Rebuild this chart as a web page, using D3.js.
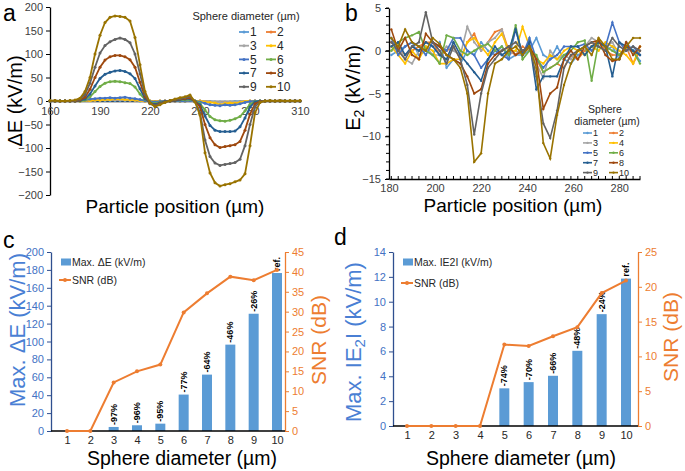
<!DOCTYPE html>
<html>
<head>
<meta charset="utf-8">
<script src="https://cdn.jsdelivr.net/npm/d3@7"></script>
<style>
  body { margin: 0; background: #fff; }
  svg { display: block; font-family: "Liberation Sans", Arial, sans-serif; }
</style>
</head>
<body>
<div id="chart"></div>
<script>
// ---------- data ----------
const seriesNames = ["1", "2", "3", "4", "5", "6", "7", "8", "9", "10"];

// panel a: delta E (kV/m) vs particle position (um)
const aPos = [160,163,166,169,172,175,178,181,184,187,190,193,196,199,202,205,208,211,214,217,
  220,223,226,229,232,235,238,241,244,247,250,253,256,259,262,265,268,271,274,277,
  280,283,286,289,292,295,298,301,304,307,310];
const aD1 = [0,0,0,0,0,0,0,1,1,1, 1,1,1,1,1,1,1,1,0,0, 0,-1,0,0,0,0,0,0,1,0, 0,-1,-1,-2,-2,-2,-2,-1,-1,-1, 0,0,0,0,0,0,0,1,0,0, 0];
const aD2 = [0,0,0,0,0,0,0,1,1,2, 2,3,3,3,3,3,2,2,1,0, 0,-1,0,0,0,0,0,0,1,0, 0,-1,-2,-3,-3,-3,-3,-3,-2,-1, 0,0,0,0,0,0,1,0,0,0, 0];
const aD3 = [0,0,0,0,0,0,0,1,1,2, 2,2,3,3,3,2,2,2,1,0, 0,-1,0,0,0,0,0,0,1,0, 0,-1,-2,-2,-3,-3,-2,-2,-2,-1, 0,0,0,0,0,0,1,0,0,0, 0];
const aD4 = [0,0,0,0,0,0,0,1,1,2, 2,3,3,4,4,3,3,2,1,0, 0,-1,0,0,0,0,0,0,1,0, 0,-2,-3,-4,-8,-5,-4,-5,-3,-1, 0,0,0,0,0,0,0,0,0,0, 0];
const aD5 = [0,0,0,0,0,0,1,2,4,5, 6,6,7,6,7,8,6,5,3,1, -1,-2,-1,0,0,0,0,0,1,0, -2,-5,-8,-9,-10,-8,-9,-8,-6,-3, -1,0,0,0,0,0,0,0,0,0, 0];
const aD6 = [0,0,0,0,0,0,0,2,9,20, 31,38,41,42,41,39,37,30,15,3, -3,-5,-3,-1,0,1,2,2,3,0, -5,-19,-33,-40,-42,-43,-41,-38,-33,-21, -7,-1,0,0,0,0,0,0,0,0, 0];
const aD7 = [0,0,0,0,0,0,1,4,15,32, 48,57,61,64,65,63,58,48,26,5, -4,-7,-4,-1,0,1,3,4,5,-1, -8,-32,-52,-62,-65,-65,-65,-64,-55,-36, -13,-2,0,0,0,0,0,0,0,0, 0];
const aD8 = [0,0,0,0,0,0,2,8,25,50, 72,87,94,97,97,94,88,72,40,9, -5,-9,-5,-2,0,2,4,5,7,-1, -12,-50,-78,-93,-99,-97,-95,-93,-86,-62, -28,-6,-1,0,0,0,0,0,0,0, 0];
const aD9 = [0,1,0,0,0,1,4,14,38,72, 102,118,126,131,134,131,124,100,58,14, -6,-10,-6,-2,1,3,5,7,10,-1, -25,-83,-118,-132,-137,-135,-133,-131,-124,-95, -50,-12,-2,0,1,0,1,0,0,1, 0];
const aD10 = [1,1,0,0,1,2,6,20,50,100, 140,167,178,181,180,178,170,135,77,20, -4,-12,-8,-3,1,4,7,9,13,-2, -30,-110,-153,-174,-181,-178,-176,-172,-168,-155, -95,-25,-3,0,1,0,1,0,1,0, 1];
const aTicksX = [160, 190, 220, 250, 280, 310];
const aTicksY = [-200, -150, -100, -50, 0, 50, 100, 150, 200];

// panel b: E2 (kV/m) vs particle position (um)
const bPos = [181,184,187,190,193,196,199,202,205,208,211,214,217,220,223,226,229,232,235,238,
  241,244,247,250,253,256,259,262,265,268,271,274,277,280,283,286,289];
const bD1 = [-0.5,0,0.5,1,-0.5,0,-0.5,1,-2,-1, -1.5,0,-0.5,1,0,-0.5,0.5,-1,-0.5,-0.5, 0,1.5,-0.5,-1,0.5,-1,-1.5,-0.5,0,0.5, 0.5,0,0.5,-1,1,0,-1.2];
const bD2 = [1,0.5,-0.5,0,0.5,1,1,-0.5,0,0.5, -1,1,2,0,1,2.2,2.5,0,-0.5,0.5, 0,-1,-2.5,-2,-1.5,-2,-0.5,-1,0,0.5, 1.3,0,-0.5,-0.5,0.5,-1.5,0];
const bD3 = [0,0.5,-1,-1.5,0,0.5,-0.5,-0.5,0.5,0, -0.5,2.8,1,0,1,1.5,2.5,-0.5,0,-0.5, 0.5,-1.5,-3.2,0,-1,-0.5,-1,0,0.5,1.5, 1,0.5,1,-0.5,0,0,-0.5];
const bD4 = [0.5,-0.5,-1.5,0,-1,0.5,0,-1.5,-1.5,-1, -1,1,1.5,0.5,-0.5,1,2,0,0,2.8, 0.5,-1,-1.5,-0.5,-1,0,0.5,0,-0.5,0.5, 0,1,0.5,0,-0.5,-1.5,0.5];
const bD5 = [1.5,-0.5,0.5,1,0.5,-0.5,1,0.5,0,1.5, 1.5,0,-0.5,-2,-1,0,-0.5,-1,2.5,-0.5, 1.5,-1,-2,-1,-0.5,0.5,0.5,0.5,0.8,0, 1,0.5,3.3,1,0,0.5,-0.5];
const bD6 = [0,1,1.5,1.8,2.2,0,-0.5,-1.5,1.8,1.5, 0,-0.5,0,0.5,0.8,0,0.5,-0.5,3,-1, 0,-0.5,-2.5,-2,-1.5,-0.5,0,1,1.2,-3.5, 1,0.5,0,-0.5,0.5,0,-1.5];
const bD7 = [0.5,1,-0.5,0.5,0,1,0.5,-0.5,-1,1, -0.5,-1.5,-2.5,-3.5,-1,0.5,-0.5,0,2.5,-0.5, 1,-4.5,-3,-3,-3,-1,0.5,0.5,-0.5,0.5, 1,0.5,-3,1,0.5,0,-0.5];
const bD8 = [2.5,0,1.5,-0.5,-1,2,1,0.5,-0.5,-1, -1.5,-3,-5,-4.5,-1.5,-0.5,0,0.5,-0.5,0, 0.5,-1,-6.8,-5,-4.3,-1,0,-1,0.5,1, 1.2,-0.5,-1.2,-1,1,-0.5,0.5];
const bD9 = [1,0,-1,0.5,1,4.5,1,0,-1.5,0.5, -1,-4,-9.8,-5,-2,-1,0,0.5,1,0, 0.5,-3,-8.5,-10.2,-7,-2,-0.5,0,0.5,1, 0.5,0,1.5,0.5,0,0.5,0];
const bD10 = [1.5,0.5,2.5,1,0.5,0,1.5,0.8,-0.5,-1, -2,-5,-13,-12,-5,-1.5,-1,0,0.5,-0.5, 0.5,-2,-10.8,-12.6,-7.5,-4,-1.5,0,0.5,-0.5, 1.5,0.5,-1,-1,0.5,1.5,1.5];
const bTicksX = [180, 200, 220, 240, 260, 280];
const bTicksY = [-15, -10, -5, 0, 5];

// panel c / d: sphere diameter
const sizes = [1, 2, 3, 4, 5, 6, 7, 8, 9, 10];
const cMaxDE = [0, 0, 4.5, 6.4, 8.2, 40.7, 63, 96.5, 131, 176.5];
const cSNR = [0, 0, 12.2, 15.0, 16.7, 29.8, 34.6, 38.8, 37.9, 40.5];
const cLabels = ["", "", "-97%", "-96%", "-95%", "-77%", "-64%", "-46%", "-26%", "ref."];
const dMaxE2 = [0, 0, 0, 0, 3.03, 3.53, 4.04, 6.05, 9.0, 11.86];
const dSNR = [0, 0, 0, 0, 11.7, 11.5, 12.9, 14.2, 19.1, 20.9];
const dLabels = ["", "", "", "", "-74%", "-70%", "-66%", "-48%", "-24%", "ref."];

const colors = ["#5b9bd5", "#ed7d31", "#a5a5a5", "#ffc000", "#4472c4",
  "#70ad47", "#255e91", "#9e480e", "#636363", "#997300"];
const blue = "#4472c4", barBlue = "#5b9bd5", orange = "#ed7d31", tickGrey = "#404040";

const aSeries = [aD1, aD2, aD3, aD4, aD5, aD6, aD7, aD8, aD9, aD10];
const bSeries = [bD1, bD2, bD3, bD4, bD5, bD6, bD7, bD8, bD9, bD10];

const svg = d3.select("#chart").append("svg")
  .attr("width", 685)
  .attr("height", 471);
svg.append("rect").attr("width", 685).attr("height", 471).attr("fill", "#fff");

function styleAxis(g, lineColor, textColor, size) {
  g.select(".domain").attr("stroke", lineColor).attr("stroke-width", 1.3);
  g.selectAll(".tick line").attr("stroke", lineColor).attr("stroke-width", 1);
  g.selectAll(".tick text").attr("fill", textColor).attr("font-size", size)
    .attr("font-family", "Liberation Sans, Arial, sans-serif");
}

function panelLetter(t, x, y) {
  svg.append("text").attr("x", x).attr("y", y).attr("font-size", 23).text(t);
}

//----------- panel a -----------
const ax = d3.scaleLinear().domain([160, 310]).range([50, 300]);
const ay = d3.scaleLinear().domain([-200, 200]).range([195, 7]);

const aYAxis = svg.append("g").attr("transform", "translate(50,0)")
  .call(d3.axisLeft(ay).tickValues(aTicksY).tickSize(4).tickPadding(3).tickSizeOuter(0));
styleAxis(aYAxis, "#000", tickGrey, 11);

const aXAxis = svg.append("g").attr("transform", "translate(0," + ay(0) + ")")
  .call(d3.axisBottom(ax).tickValues(aTicksX).tickSize(0).tickPadding(6).tickSizeOuter(0));
styleAxis(aXAxis, "#000", tickGrey, 11);

const aLine = d3.line().x((d, i) => ax(aPos[i])).y(d => ay(d));
aSeries.forEach((s, k) => {
  const g = svg.append("g");
  g.append("path").attr("d", aLine(s)).attr("fill", "none")
    .attr("stroke", colors[k]).attr("stroke-width", 1.8);
  g.selectAll("circle").data(s).join("circle")
    .attr("cx", (d, i) => ax(aPos[i])).attr("cy", d => ay(d))
    .attr("r", 1.5).attr("fill", colors[k]);
});

svg.append("text").attr("x", 246).attr("y", 20).attr("text-anchor", "middle")
  .attr("font-size", 11).attr("fill", "#262626").text("Sphere diameter (\u00b5m)");
seriesNames.forEach((n, k) => {
  const col = k % 2, row = Math.floor(k / 2);
  const lx = col === 0 ? 239 : 266, ly = 32 + row * 13.7;
  svg.append("line").attr("x1", lx).attr("x2", lx + 10).attr("y1", ly).attr("y2", ly)
    .attr("stroke", colors[k]).attr("stroke-width", 1.8);
  svg.append("circle").attr("cx", lx + 5).attr("cy", ly).attr("r", 1.5).attr("fill", colors[k]);
  svg.append("text").attr("x", lx + 11).attr("y", ly).attr("dy", "0.36em")
    .attr("font-size", 12).attr("fill", "#262626").text(n);
});

svg.append("text").attr("transform", "translate(22,101) rotate(-90)")
  .attr("text-anchor", "middle").attr("font-size", 20).text("\u0394E (kV/m)");
svg.append("text").attr("x", 175).attr("y", 213).attr("text-anchor", "middle")
  .attr("font-size", 19).text("Particle position (\u00b5m)");
panelLetter("a", 3, 21);

//----------- panel b -----------
const bx = d3.scaleLinear().domain([180, 289]).range([389, 640]);
const by = d3.scaleLinear().domain([-15, 5]).range([179, 8]);

// minor ticks
svg.append("g").selectAll("line").data(d3.range(-15, 6, 1)).join("line")
  .attr("x1", 386).attr("x2", 389).attr("y1", d => by(d)).attr("y2", d => by(d))
  .attr("stroke", "#000");
svg.append("g").selectAll("line").data(bPos).join("line")
  .attr("x1", d => bx(d)).attr("x2", d => bx(d)).attr("y1", 179).attr("y2", 176)
  .attr("stroke", "#000");

const bYAxis = svg.append("g").attr("transform", "translate(389,0)")
  .call(d3.axisLeft(by).tickValues(bTicksY).tickSize(4).tickPadding(4).tickSizeOuter(0));
styleAxis(bYAxis, "#000", tickGrey, 11);
const bXAxis = svg.append("g").attr("transform", "translate(0,179)")
  .call(d3.axisBottom(bx).tickValues(bTicksX).tickSize(0).tickPadding(5).tickSizeOuter(0));
styleAxis(bXAxis, "#000", tickGrey, 11);

const bLine = d3.line().x((d, i) => bx(bPos[i])).y(d => by(d));
bSeries.forEach((s, k) => {
  const g = svg.append("g");
  g.append("path").attr("d", bLine(s)).attr("fill", "none")
    .attr("stroke", colors[k]).attr("stroke-width", 1.6);
  g.selectAll("circle").data(s).join("circle")
    .attr("cx", (d, i) => bx(bPos[i])).attr("cy", d => by(d))
    .attr("r", 1.2).attr("fill", colors[k]);
});

svg.append("text").attr("x", 605).attr("y", 113).attr("text-anchor", "middle")
  .attr("font-size", 10.5).attr("fill", "#262626").text("Sphere");
svg.append("text").attr("x", 607).attr("y", 125).attr("text-anchor", "middle")
  .attr("font-size", 10.5).attr("fill", "#262626").text("diameter (\u00b5m)");
seriesNames.forEach((n, k) => {
  const col = k % 2, row = Math.floor(k / 2);
  const lx = col === 0 ? 583 : 609, ly = 133 + row * 9.9;
  svg.append("line").attr("x1", lx).attr("x2", lx + 9).attr("y1", ly).attr("y2", ly)
    .attr("stroke", colors[k]).attr("stroke-width", 1.6);
  svg.append("circle").attr("cx", lx + 4.5).attr("cy", ly).attr("r", 1.2).attr("fill", colors[k]);
  svg.append("text").attr("x", lx + 10).attr("y", ly).attr("dy", "0.36em")
    .attr("font-size", 9).attr("fill", "#262626").text(n);
});

const bYT = svg.append("text").attr("transform", "translate(360,88) rotate(-90)")
  .attr("text-anchor", "middle").attr("font-size", 20);
bYT.append("tspan").text("E");
bYT.append("tspan").attr("font-size", 14).attr("dy", 4).text("2");
bYT.append("tspan").attr("dy", -4).text(" (kV/m)");
svg.append("text").attr("x", 513).attr("y", 212).attr("text-anchor", "middle")
  .attr("font-size", 19).text("Particle position (\u00b5m)");
panelLetter("b", 345, 21);

//----------- bar + SNR panels -----------
function comboPanel(o) {
  const x = d3.scalePoint().domain(sizes).range([o.x0, o.x1]);
  const yL = d3.scaleLinear().domain([0, o.maxL]).range([o.yBottom, o.yTop]);
  const yR = d3.scaleLinear().domain([0, o.maxR]).range([o.yBottom, o.yTop]);

  const gL = svg.append("g").attr("transform", "translate(" + o.axL + ",0)")
    .call(d3.axisLeft(yL).tickValues(d3.range(0, o.maxL + 0.001, o.stepL))
      .tickSize(4).tickPadding(3).tickSizeOuter(0));
  styleAxis(gL, "#2f4f8f", blue, 11);
  const gR = svg.append("g").attr("transform", "translate(" + o.axR + ",0)")
    .call(d3.axisRight(yR).tickValues(d3.range(0, o.maxR + 0.001, o.stepR))
      .tickSize(4).tickPadding(3).tickSizeOuter(0));
  styleAxis(gR, orange, orange, 11);

  // bars
  svg.append("g").selectAll("rect").data(o.bars).join("rect")
    .attr("x", (d, i) => x(sizes[i]) - 5)
    .attr("y", d => yL(d))
    .attr("width", 10)
    .attr("height", d => o.yBottom - yL(d))
    .attr("fill", barBlue);

  // bottom axis
  const gB = svg.append("g").attr("transform", "translate(0," + o.yBottom + ")")
    .call(d3.axisBottom(x).tickSize(0).tickPadding(5));
  gB.select(".domain").remove();
  styleAxis(gB, "#000", "#262626", 11);
  svg.append("line").attr("x1", o.axL).attr("x2", o.axR)
    .attr("y1", o.yBottom).attr("y2", o.yBottom).attr("stroke", "#000").attr("stroke-width", 1.3);

  // percent labels
  svg.append("g").selectAll("text").data(o.labels).join("text")
    .attr("transform", (d, i) => "translate(" + x(sizes[i]) + "," + (yL(o.bars[i]) - 2) + ") rotate(-90)")
    .attr("dy", "0.35em").attr("font-size", 9).attr("font-weight", "bold")
    .text(d => d);

  // SNR line
  const line = d3.line().x((d, i) => x(sizes[i])).y(d => yR(d));
  svg.append("path").attr("d", line(o.snr)).attr("fill", "none")
    .attr("stroke", orange).attr("stroke-width", 2);
  svg.append("g").selectAll("circle").data(o.snr).join("circle")
    .attr("cx", (d, i) => x(sizes[i])).attr("cy", d => yR(d))
    .attr("r", 2).attr("fill", orange);

  // legend
  svg.append("rect").attr("x", o.legX).attr("y", o.legY1 - 3.5).attr("width", 10).attr("height", 7)
    .attr("fill", barBlue);
  const t1 = svg.append("text").attr("x", o.legX + 11).attr("y", o.legY1).attr("dy", "0.36em")
    .attr("font-size", 10.5).attr("fill", "#262626");
  o.legText(t1);
  svg.append("line").attr("x1", o.legX - 2).attr("x2", o.legX + 10)
    .attr("y1", o.legY2).attr("y2", o.legY2).attr("stroke", orange).attr("stroke-width", 2);
  svg.append("circle").attr("cx", o.legX + 4).attr("cy", o.legY2).attr("r", 2).attr("fill", orange);
  svg.append("text").attr("x", o.legX + 11).attr("y", o.legY2).attr("dy", "0.36em")
    .attr("font-size", 10.5).attr("fill", "#262626").text("SNR (dB)");

  // titles
  const tl = svg.append("text")
    .attr("transform", "translate(" + o.tlX + "," + o.tlY + ") rotate(-90)")
    .attr("text-anchor", "middle").attr("font-size", 22).attr("fill", "#4a7fd4");
  o.leftTitle(tl);
  svg.append("text")
    .attr("transform", "translate(" + o.trX + "," + o.trY + ") rotate(-90)")
    .attr("text-anchor", "middle").attr("font-size", 21).attr("fill", orange)
    .text("SNR (dB)");
  svg.append("text").attr("x", o.tbX).attr("y", 465).attr("text-anchor", "middle")
    .attr("font-size", 19.5).text("Sphere diameter (\u00b5m)");
}

comboPanel({
  x0: 67, x1: 277, axL: 51, axR: 285, yBottom: 431, yTop: 252,
  maxL: 200, stepL: 20, maxR: 45, stepR: 5,
  bars: cMaxDE, snr: cSNR, labels: cLabels,
  legX: 61, legY1: 262, legY2: 280,
  legText: t => t.text("Max. \u0394E (kV/m)"),
  leftTitle: t => t.text("Max. \u0394E (kV/m)"),
  tlX: 25, tlY: 330, trX: 326, trY: 340, tbX: 182
});
panelLetter("c", 3, 248);

comboPanel({
  x0: 407, x1: 626, axL: 393, axR: 638, yBottom: 426, yTop: 252,
  maxL: 14, stepL: 2, maxR: 25, stepR: 5,
  bars: dMaxE2, snr: dSNR, labels: dLabels,
  legX: 403, legY1: 262, legY2: 283,
  legText: t => t.text("Max. IE2I (kV/m)"),
  leftTitle: t => {
    t.append("tspan").text("Max. IE");
    t.append("tspan").attr("font-size", 15).attr("dy", 4).text("2");
    t.append("tspan").attr("dy", -4).text("I (kV/m)");
  },
  tlX: 361, tlY: 342, trX: 678, trY: 337, tbX: 521
});
panelLetter("d", 334, 245);
</script>
</body>
</html>
